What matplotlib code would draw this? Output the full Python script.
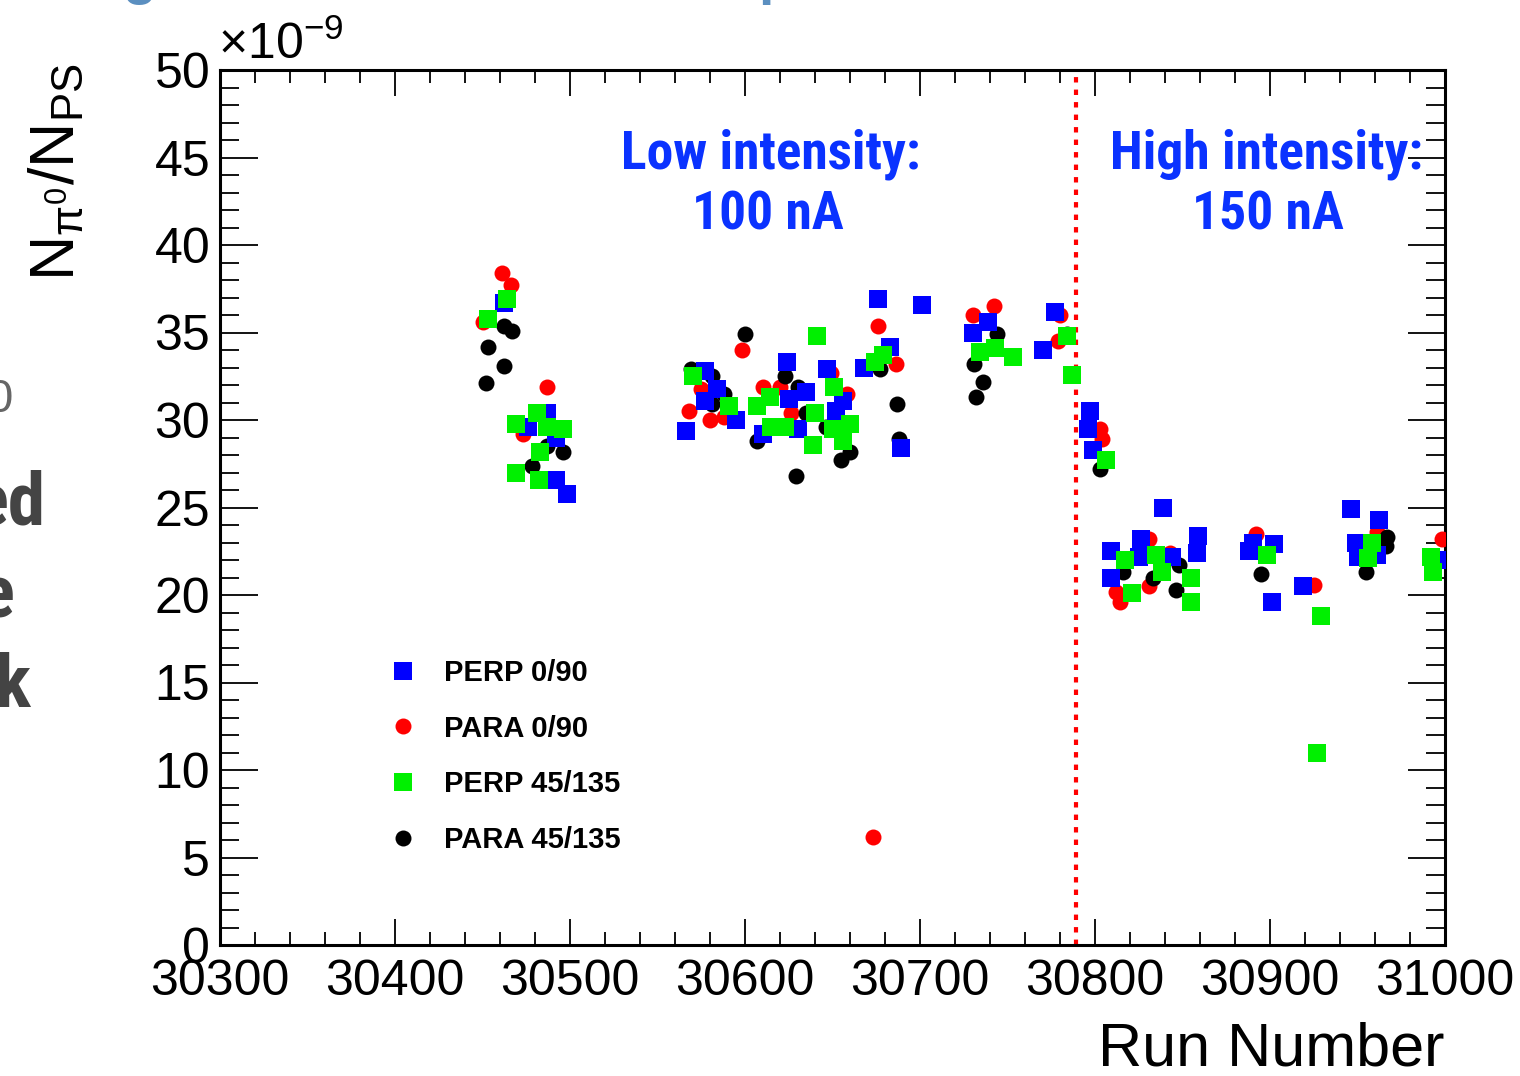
import matplotlib
matplotlib.use("Agg")
import matplotlib.pyplot as plt
from matplotlib import font_manager as fm
from matplotlib.ticker import MultipleLocator
from matplotlib.lines import Line2D

plt.rcParams['font.family'] = ['Liberation Sans', 'DejaVu Sans']
plt.rcParams['mathtext.fontset'] = 'custom'
plt.rcParams['mathtext.rm'] = 'Liberation Sans'
plt.rcParams['mathtext.it'] = 'Liberation Sans:italic'

# data (y values in units of 1e-9)
perp090_run = [30462, 30476, 30487, 30492, 30492, 30498,
               30676, 30701, 30683, 30624, 30668, 30647, 30577, 30584, 30635, 30625,
               30656, 30577, 30595, 30652, 30566, 30610, 30630, 30689,
               30730, 30739, 30777, 30770,
               30797, 30796, 30799, 30839, 30826, 30809, 30825, 30844, 30859, 30858, 30809,
               30890, 30888, 30902, 30901, 30919, 30946, 30962, 30949, 30950, 30961, 30998]
perp090_val = [36.7, 29.6, 30.4, 29.0, 26.6, 25.8,
               36.9, 36.6, 34.2, 33.3, 33.0, 32.9, 32.8, 31.8, 31.6, 31.2,
               31.1, 31.1, 30.0, 30.5, 29.4, 29.2, 29.5, 28.4,
               35.0, 35.6, 36.2, 34.0,
               30.5, 29.5, 28.3, 25.0, 23.2, 22.5, 22.2, 22.2, 23.4, 22.4, 21.0,
               23.0, 22.5, 22.9, 19.6, 20.5, 24.9, 24.3, 23.0, 22.2, 22.3, 22.0]

para090_run = [30461, 30466, 30450, 30487, 30473,
               30676, 30598, 30686, 30649, 30575, 30610, 30620, 30658, 30568, 30580,
               30588, 30626, 30673,
               30730, 30742, 30780, 30779,
               30803, 30804, 30831, 30843, 30812, 30814, 30831,
               30892, 30925, 30961, 30998]
para090_val = [38.4, 37.7, 35.6, 31.9, 29.2,
               35.4, 34.0, 33.2, 32.7, 31.8, 31.9, 31.9, 31.5, 30.5, 30.0,
               30.2, 30.4, 6.2,
               36.0, 36.5, 36.0, 34.5,
               29.5, 28.9, 23.2, 22.4, 20.2, 19.6, 20.5,
               23.5, 20.6, 23.6, 23.2]

perp45_run = [30464, 30453, 30481, 30469, 30487, 30496, 30483, 30469, 30482,
              30641, 30679, 30674, 30570, 30614, 30651, 30591, 30607, 30640, 30615,
              30623, 30650, 30660, 30639, 30656,
              30734, 30743, 30753, 30784, 30787,
              30806, 30817, 30835, 30838, 30855, 30821, 30855,
              30898, 30929, 30927, 30958, 30956, 30992, 30993]
perp45_val = [36.9, 35.8, 30.4, 29.8, 29.6, 29.5, 28.2, 27.0, 26.6,
              34.8, 33.7, 33.3, 32.5, 31.3, 31.9, 30.8, 30.8, 30.4, 29.6,
              29.6, 29.5, 29.8, 28.6, 28.8,
              33.9, 34.1, 33.6, 34.8, 32.6,
              27.7, 22.0, 22.3, 21.3, 21.0, 20.1, 19.6,
              22.3, 18.8, 11.0, 23.0, 22.1, 22.2, 21.3]

para45_run = [30462, 30467, 30453, 30462, 30452, 30487, 30496, 30478,
              30600, 30677, 30569, 30581, 30623, 30630, 30588, 30581, 30635, 30607,
              30655, 30660, 30687, 30688, 30629, 30646,
              30744, 30731, 30736, 30732, 30784,
              30803, 30848, 30816, 30833, 30846,
              30895, 30967, 30966, 30955]
para45_val = [35.4, 35.1, 34.2, 33.1, 32.1, 28.5, 28.2, 27.4,
              34.9, 32.9, 32.9, 32.5, 32.5, 31.9, 31.5, 30.9, 30.4, 28.8,
              27.7, 28.2, 30.9, 28.9, 26.8, 29.6,
              34.9, 33.2, 32.2, 31.3, 34.9,
              27.2, 21.7, 21.3, 21.0, 20.3,
              21.2, 23.3, 22.8, 21.3]

labels = ['PERP 0/90', 'PARA 0/90', 'PERP 45/135', 'PARA 45/135']
split_run = 30789


# look for a bold condensed font for the annotations
def find_condensed():
    prefs = ['Roboto Condensed', 'Liberation Sans Narrow', 'Open Sans Condensed', 'DejaVu Sans']
    for name in prefs:
        for f in fm.fontManager.ttflist:
            if f.name != name:
                continue
            bold = str(f.weight) in ('bold', '700')
            narrow = ('Condensed' in f.name or 'Narrow' in f.name
                      or str(f.stretch) in ('condensed', 'semi-condensed', '75', '87'))
            if bold and narrow and 'Oblique' not in f.fname and 'Italic' not in f.fname:
                return f.fname
    return None


cpath = find_condensed()


def cond_font(size):
    if cpath:
        return fm.FontProperties(fname=cpath, size=size)
    return fm.FontProperties(family='Liberation Sans', weight='bold', size=size * 0.8)


fig = plt.figure(figsize=(15.2, 10.76), dpi=100)
ax = fig.add_axes([220/1520, 1-945/1076, 1225/1520, 875/1076])

ms_sq = 13
ms_ci = 11.5
green = '#00f000'
ax.plot(para090_run, para090_val, 'o', color='#ff0000', ms=ms_ci, mew=0, zorder=3)
ax.plot(para45_run, para45_val, 'o', color='black', ms=ms_ci, mew=0, zorder=4)
ax.plot(perp090_run, perp090_val, 's', color='#0000ff', ms=ms_sq, mew=0, zorder=5)
ax.plot(perp45_run, perp45_val, 's', color=green, ms=ms_sq, mew=0, zorder=6)

ax.axvline(split_run, color='#ff0000', lw=3, ls=(0, (1.3, 1.7)), zorder=2)

ax.set_xlim(30300, 31000)
ax.set_ylim(0, 50)
ax.xaxis.set_major_locator(MultipleLocator(100))
ax.xaxis.set_minor_locator(MultipleLocator(20))
ax.yaxis.set_major_locator(MultipleLocator(5))
ax.yaxis.set_minor_locator(MultipleLocator(1))
ax.tick_params(axis='both', which='both', direction='in', top=True, right=True,
               labelsize=36, width=1.3, color='black')
ax.tick_params(axis='x', which='major', length=19, pad=10)
ax.tick_params(axis='x', which='minor', length=9.5)
ax.tick_params(axis='y', which='major', length=27, pad=7)
ax.tick_params(axis='y', which='minor', length=13.5)
for s in ax.spines.values():
    s.set_linewidth(2.2)

ax.set_xlabel('Run Number', fontsize=44, loc='right', labelpad=12)

fig.text(57/1520, 1-172/1076, r'$\mathregular{N_{\pi^{0}}/N_{PS}}$', fontsize=45,
         rotation=90, ha='center', va='center')
fig.text(218/1520, 1-45/1076, r'$\times10^{-9}$', fontsize=36, ha='left', va='center')

txt_col = '#0a32ff'
ax.text(30615, 45.2, 'Low intensity:', fontproperties=cond_font(38.5),
        color=txt_col, ha='center', va='center')
ax.text(30613, 41.7, '100 nA', fontproperties=cond_font(38.5),
        color=txt_col, ha='center', va='center')
ax.text(30898, 45.2, 'High intensity:', fontproperties=cond_font(38.5),
        color=txt_col, ha='center', va='center')
ax.text(30899, 41.7, '150 nA', fontproperties=cond_font(38.5),
        color=txt_col, ha='center', va='center')

handles = [Line2D([], [], ls='', marker='s', color='#0000ff', ms=ms_sq, mew=0),
           Line2D([], [], ls='', marker='o', color='#ff0000', ms=ms_ci, mew=0),
           Line2D([], [], ls='', marker='s', color=green, ms=ms_sq, mew=0),
           Line2D([], [], ls='', marker='o', color='black', ms=ms_ci, mew=0)]
ax.legend(handles, labels, loc='upper left', bbox_to_anchor=(0.116, 0.357),
          frameon=False, prop={'size': 21, 'weight': 'bold'},
          labelspacing=0.95, handletextpad=0.9, handlelength=1.0)

# cut-off slide text at the edges
grey = '#444444'
fig.text(12/1520, 1-400/1076, '0', fontsize=34, color='#666666', ha='right', va='center')
fig.text(45/1520, 1-505/1076, 'ed', fontproperties=cond_font(54), color=grey, ha='right', va='center')
fig.text(14/1520, 1-597/1076, 'e', fontproperties=cond_font(54), color=grey, ha='right', va='center')
fig.text(30/1520, 1-687/1076, 'k', fontproperties=cond_font(54), color=grey, ha='right', va='center')
fig.text(140/1520, 1+7/1076, 'g', fontsize=40, weight='bold', color='#5b8fc0',
         ha='center', va='baseline')
fig.text(775/1520, 1+7/1076, 'p', fontsize=40, weight='bold', color='#5b8fc0',
         ha='center', va='baseline')

fig.savefig('out.png', dpi=100, facecolor='white')
